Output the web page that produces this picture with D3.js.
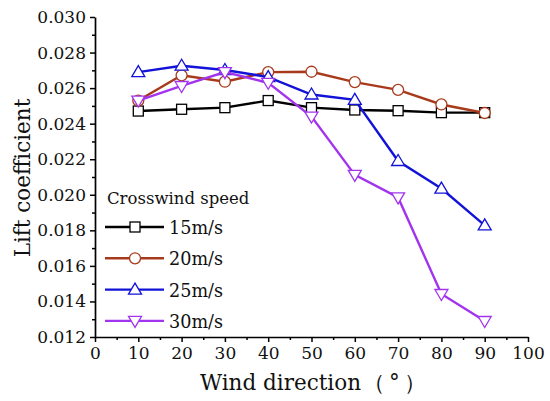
<!DOCTYPE html>
<html>
<head>
<meta charset="utf-8">
<script src="https://d3js.org/d3.v7.min.js"></script>
<style>
  body { margin: 0; background: #fff; }
  text { font-family: "DejaVu Serif", serif; fill: #111; }
</style>
</head>
<body>
<div id="chart"></div>
<script>
// wind direction (deg)
var directions = [10, 20, 30, 40, 50, 60, 70, 80, 90];
// lift coefficient per crosswind speed
var lift15 = [0.02471, 0.02481, 0.02490, 0.02530, 0.02490, 0.02477, 0.02473, 0.02462, 0.02462];
var lift20 = [0.02530, 0.02672, 0.02636, 0.02690, 0.02692, 0.02634, 0.02590, 0.02508, 0.02460];
var lift25 = [0.02690, 0.02726, 0.02702, 0.02662, 0.02564, 0.02534, 0.02190, 0.02035, 0.01828];
var lift30 = [0.02530, 0.02612, 0.02690, 0.02630, 0.02440, 0.02112, 0.01985, 0.01442, 0.01290];
var seriesNames = ["15m/s", "20m/s", "25m/s", "30m/s"];
var xTicks = [0, 10, 20, 30, 40, 50, 60, 70, 80, 90, 100];
var yTicks = [0.012, 0.014, 0.016, 0.018, 0.020, 0.022, 0.024, 0.026, 0.028, 0.030];

var width = 550, height = 401;
var margin = {left: 95, right: 22, top: 17, bottom: 64};

var svg = d3.select("#chart").append("svg")
    .attr("width", width)
    .attr("height", height);

var x = d3.scaleLinear().domain([0, 100]).range([margin.left, width - margin.right]);
var y = d3.scaleLinear().domain([0.012, 0.030]).range([height - margin.bottom, margin.top]);

var styles = [
  {color: "#000000", symbol: "square"},
  {color: "#a83a1c", symbol: "circle"},
  {color: "#1212d8", symbol: "up"},
  {color: "#a234ee", symbol: "down"}
];
var allSeries = [lift15, lift20, lift25, lift30];

// minor ticks
svg.append("g")
   .attr("transform", "translate(0," + y.range()[0] + ")")
   .call(d3.axisBottom(x).tickValues(d3.range(5, 100, 10)).tickSize(3).tickFormat(""))
   .call(function(g){ g.select(".domain").remove(); g.selectAll("line").attr("stroke-width", 1.5); });
svg.append("g")
   .attr("transform", "translate(" + x.range()[0] + ",0)")
   .call(d3.axisLeft(y).tickValues(d3.range(0.013, 0.030, 0.002)).tickSize(3).tickFormat(""))
   .call(function(g){ g.select(".domain").remove(); g.selectAll("line").attr("stroke-width", 1.5); });

// main axes
var xAxis = svg.append("g")
   .attr("transform", "translate(0," + y.range()[0] + ")")
   .call(d3.axisBottom(x).tickValues(xTicks).tickSize(5).tickSizeOuter(0).tickPadding(5));
var yAxis = svg.append("g")
   .attr("transform", "translate(" + x.range()[0] + ",0)")
   .call(d3.axisLeft(y).tickValues(yTicks).tickSize(5).tickSizeOuter(0).tickPadding(4).tickFormat(d3.format(".3f")));

[xAxis, yAxis].forEach(function(g) {
  g.select(".domain").attr("stroke-width", 1.7);
  g.selectAll("line").attr("stroke-width", 1.5);
  g.selectAll("text").style("font-size", "17px").style("font-family", "DejaVu Serif").attr("fill", "#111");
});

// axis titles
svg.append("text")
   .attr("transform", "translate(" + 30 + "," + 178 + ") rotate(-90)")
   .style("text-anchor", "middle")
   .style("font-size", "21.5px")
   .text("Lift coefficient");

var xTitle = svg.append("text")
   .attr("x", 200)
   .attr("y", 390)
   .style("font-size", "21.5px");
xTitle.append("tspan").text("Wind direction");
xTitle.append("tspan")
   .attr("dx", 2)
   .style("letter-spacing", "4px")
   .text("（°）");

function drawMarker(g, sym, cx, cy, color) {
  if (sym === "square") {
    g.append("rect").attr("x", cx - 5).attr("y", cy - 5).attr("width", 10).attr("height", 10)
     .attr("fill", "#fff").attr("stroke", color).attr("stroke-width", 1.3);
  } else if (sym === "circle") {
    g.append("circle").attr("cx", cx).attr("cy", cy).attr("r", 5.5)
     .attr("fill", "#fff").attr("stroke", color).attr("stroke-width", 1.3);
  } else {
    var s = sym === "up" ? -1 : 1;
    var pts = [[cx, cy + s * 6.5], [cx - 6.5, cy - s * 4.5], [cx + 6.5, cy - s * 4.5]];
    g.append("path").attr("d", "M" + pts.join("L") + "Z")
     .attr("fill", "#fff").attr("stroke", color).attr("stroke-width", 1.3);
  }
}

var line = d3.line()
  .x(function(d, i) { return x(directions[i]); })
  .y(function(d) { return y(d); });

allSeries.forEach(function(vals, k) {
  var g = svg.append("g");
  g.append("path")
   .attr("d", line(vals))
   .attr("fill", "none")
   .attr("stroke", styles[k].color)
   .attr("stroke-width", 2.4);
  vals.forEach(function(v, i) {
    drawMarker(g, styles[k].symbol, x(directions[i]), y(v), styles[k].color);
  });
});

// legend
var legend = svg.append("g");
legend.append("text")
   .attr("x", 107).attr("y", 204)
   .style("font-size", "16.5px")
   .text("Crosswind speed");
seriesNames.forEach(function(name, k) {
  var ly = 227 + k * 31.3;
  legend.append("line")
     .attr("x1", 105).attr("x2", 164)
     .attr("y1", ly).attr("y2", ly)
     .attr("stroke", styles[k].color).attr("stroke-width", 2.4);
  drawMarker(legend, styles[k].symbol, 135, ly, styles[k].color);
  legend.append("text")
     .attr("x", 169).attr("y", ly + 7)
     .style("font-size", "17.6px")
     .text(name);
});
</script>
</body>
</html>
